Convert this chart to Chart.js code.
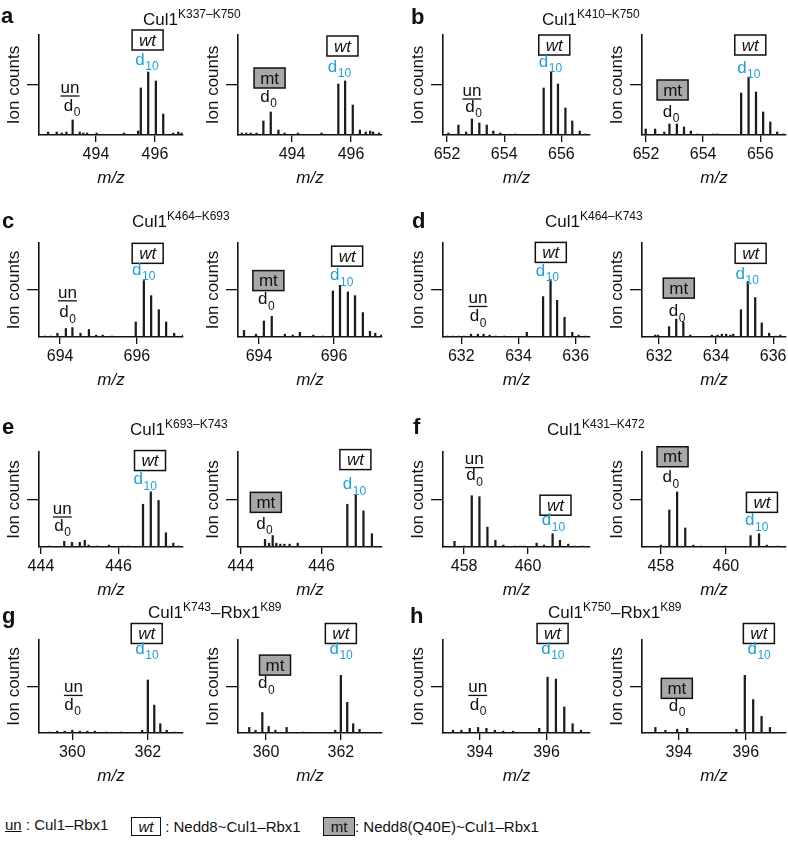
<!DOCTYPE html>
<html>
<head>
<meta charset="utf-8">
<script src="https://cdn.jsdelivr.net/npm/chart.js@4"></script>
<style>
  body { margin: 0; background: #fff; width: 788px; height: 842px; position: relative; overflow: hidden;
         font-family: "Liberation Sans", Arial, sans-serif; color: #111; }
  canvas { position: absolute; }
  .lbl { position: absolute; white-space: nowrap; line-height: 1; }
  .letter { font-weight: bold; font-size: 22px; }
  .title { font-size: 17px; }
  .title sup { font-size: 12px; vertical-align: 0; position: relative; top: -7px; }
  .key { font-size: 15px; }
  .box { display: inline-block; border: 1.5px solid #111; width: 28px; height: 17px; text-align: center;
         line-height: 17px; font-size: 15px; }
</style>
</head>
<body>
<script>
// ---- data: m/z positions and relative ion counts (tick at 50) ----
const yTicks = [50];

const aTicks = [494, 496];
const a1Mz = [492.38, 492.67, 492.84, 493.0, 493.21, 493.45, 493.57, 493.7, 494.02, 494.95, 495.43, 495.52, 495.77, 496.03, 496.28, 496.62, 496.79, 496.9];
const a1Int = [3, 3, 2, 3, 15, 3, 2, 2, 2, 2, 4, 47, 63, 54, 21, 2, 3, 2];
const a2Mz = [492.3, 492.45, 492.6, 492.8, 493.03, 493.28, 493.54, 493.75, 494.2, 495.0, 495.57, 495.8, 496.06, 496.3, 496.5, 496.65, 496.75, 496.95];
const a2Int = [2, 2, 2, 2, 14, 23, 5, 2, 2, 2, 51, 54, 30, 5, 3, 4, 3, 2];

const bTicks = [652, 654, 656];
const b1Mz = [652.05, 652.4, 652.67, 652.87, 653.13, 653.39, 653.62, 653.86, 654.39, 655.38, 655.64, 655.88, 656.14, 656.38, 656.64, 656.84];
const b1Int = [2, 10, 3, 16, 12, 10, 4, 2, 1, 47, 63, 51, 27, 14, 4, 1];
const b2Mz = [651.99, 652.32, 652.64, 652.82, 653.08, 653.33, 653.57, 653.8, 654.35, 654.5, 655.33, 655.59, 655.85, 656.1, 656.35, 656.59, 656.8];
const b2Int = [6, 6, 3, 11, 11, 8, 4, 1, 1, 1, 42, 58, 43, 23, 13, 3, 1];

const cTicks = [694, 696];
const c1Mz = [693.6, 693.75, 693.93, 694.15, 694.32, 694.53, 694.75, 694.94, 695.11, 695.35, 695.97, 696.18, 696.37, 696.57, 696.76, 696.97, 697.2];
const c1Int = [1, 1, 4, 9, 10, 4, 8, 2, 2, 1, 16, 60, 44, 29, 16, 4, 2];
const c2Mz = [693.6, 693.92, 694.13, 694.34, 694.69, 694.9, 695.09, 695.45, 695.7, 695.97, 696.16, 696.37, 696.56, 696.77, 696.96, 697.1, 697.26];
const c2Int = [7, 3, 17, 22, 3, 2, 5, 2, 1, 49, 55, 48, 44, 26, 6, 4, 2];

const dTicks = [632, 634, 636];
const d1Mz = [631.5, 631.7, 631.9, 632.1, 632.34, 632.58, 632.78, 632.99, 633.2, 633.5, 634.29, 634.86, 635.12, 635.35, 635.61, 635.88, 636.1, 636.35];
const d1Int = [1, 1, 1, 1, 3, 3, 3, 2, 1, 1, 5, 43, 61, 39, 21, 5, 2, 1];
const d2Mz = [631.86, 631.96, 632.35, 632.6, 632.85, 633.09, 633.85, 634.05, 634.2, 634.35, 634.5, 634.6, 634.87, 635.11, 635.37, 635.6, 635.86, 636.1, 636.25];
const d2Int = [2, 2, 11, 19, 16, 2, 2, 2, 3, 3, 2, 3, 29, 59, 42, 15, 4, 1, 2];

const eTicks = [444, 446];
const e1Mz = [444.21, 444.6, 444.8, 445.0, 445.13, 445.23, 445.45, 445.75, 446.1, 446.25, 446.63, 446.83, 447.03, 447.22, 447.41, 447.55];
const e1Int = [1, 6, 5, 5, 7, 2, 1, 2, 1, 1, 45, 58, 49, 15, 4, 1];
const e2Mz = [444.6, 444.7, 444.79, 444.88, 444.98, 445.08, 445.21, 445.41, 446.64, 446.85, 447.04, 447.25];
const e2Int = [8, 4, 12, 4, 3, 3, 3, 4, 45, 55, 38, 14];

const fTicks = [458, 460];
const f1Mz = [457.7, 458.0, 458.24, 458.48, 458.73, 458.98, 459.23, 459.6, 459.75, 459.9, 460.27, 460.5, 460.77, 461.0, 461.26, 461.45, 461.7];
const f1Int = [6, 1, 54, 53, 21, 7, 2, 1, 1, 1, 4, 2, 14, 7, 3, 1, 1];
const f2Mz = [458.0, 458.26, 458.5, 458.75, 459.0, 459.25, 459.97, 460.76, 461.02, 461.26, 461.6];
const f2Int = [2, 39, 58, 20, 2, 1, 1, 12, 14, 2, 1];

const gTicks = [360, 362];
const g1Mz = [359.4, 359.6, 359.8, 360.0, 360.2, 360.4, 360.6, 360.9, 361.3, 361.85, 362.0, 362.17, 362.33, 362.5, 362.7];
const g1Int = [1, 2, 2, 3, 2, 2, 2, 1, 1, 3, 57, 30, 10, 3, 1];
const g2Mz = [359.55, 359.72, 359.9, 360.07, 360.25, 360.55, 361.0, 361.85, 362.0, 362.17, 362.33, 362.5];
const g2Int = [6, 3, 22, 7, 3, 6, 1, 3, 62, 33, 10, 4];

const hTicks = [394, 396];
const h1Mz = [393.2, 393.45, 393.7, 393.95, 394.2, 394.45, 394.7, 395.0, 395.78, 396.03, 396.28, 396.53, 396.78, 397.03];
const h1Int = [3, 3, 5, 6, 5, 3, 2, 2, 5, 60, 58, 28, 10, 3];
const h2Mz = [393.3, 393.6, 393.95, 394.25, 395.72, 395.97, 396.22, 396.47, 396.72];
const h2Int = [6, 3, 4, 5, 4, 62, 36, 18, 6];

// panel headers
const letters = ["a", "b", "c", "d", "e", "f", "g", "h"];
const titles = [
  "Cul1<sup>K337–K750</sup>", "Cul1<sup>K410–K750</sup>",
  "Cul1<sup>K464–K693</sup>", "Cul1<sup>K464–K743</sup>",
  "Cul1<sup>K693–K743</sup>", "Cul1<sup>K431–K472</sup>",
  "Cul1<sup>K743</sup>–Rbx1<sup>K89</sup>", "Cul1<sup>K750</sup>–Rbx1<sup>K89</sup>"
];

const CYAN = "#1f9fda";
const FONT = '"Liberation Sans", Arial, sans-serif';
Chart.defaults.font.family = FONT;
Chart.defaults.color = "#111";

// plot boxes: [axis x, axis top, axis right, axis bottom]
const rowY = [[35, 134.5], [243, 336.5], [452, 546.5], [640, 733]];
const colX = [[39, 183], [238, 382], [443, 590], [642, 786]];

const panels = [
  { mz: a1Mz, v: a1Int, ticks: aTicks, range: [492.07, 496.95], r: 0, c: 0, tag: "un",
    ann: { tag: [493.12, 47], d0: [493.18, 27], wt: [495.75, 95], d10: [495.72, 73] } },
  { mz: a2Mz, v: a2Int, ticks: aTicks, range: [492.17, 497.05], r: 0, c: 1, tag: "mt",
    ann: { tag: [493.24, 57], d0: [493.2, 36], wt: [495.71, 89], d10: [495.6, 66] } },
  { mz: b1Mz, v: b1Int, ticks: bTicks, range: [651.86, 657.0], r: 0, c: 2, tag: "un",
    ann: { tag: [652.87, 44], d0: [652.92, 26], wt: [655.75, 90], d10: [655.61, 71] } },
  { mz: b2Mz, v: b2Int, ticks: bTicks, range: [651.86, 656.9], r: 0, c: 3, tag: "mt",
    ann: { tag: [652.93, 45], d0: [652.87, 21], wt: [655.65, 90], d10: [655.59, 65] } },
  { mz: c1Mz, v: c1Int, ticks: cTicks, range: [693.45, 697.2], r: 1, c: 0, tag: "un",
    ann: { tag: [694.19, 47], d0: [694.19, 24], wt: [696.28, 89], d10: [696.17, 69] } },
  { mz: c2Mz, v: c2Int, ticks: cTicks, range: [693.44, 697.28], r: 1, c: 1, tag: "mt",
    ann: { tag: [694.25, 60], d0: [694.19, 38], wt: [696.35, 86], d10: [696.2, 63] } },
  { mz: d1Mz, v: d1Int, ticks: dTicks, range: [631.36, 636.5], r: 1, c: 2, tag: "un",
    ann: { tag: [632.58, 41], d0: [632.58, 20], wt: [635.13, 90], d10: [635.0, 68] } },
  { mz: d2Mz, v: d2Int, ticks: dTicks, range: [631.4, 636.45], r: 1, c: 3, tag: "mt",
    ann: { tag: [632.69, 52], d0: [632.62, 25], wt: [635.21, 89], d10: [635.08, 65] } },
  { mz: e1Mz, v: e1Int, ticks: eTicks, range: [443.95, 447.66], r: 2, c: 0, tag: "un",
    ann: { tag: [444.55, 40], d0: [444.55, 20], wt: [446.81, 91], d10: [446.68, 69] } },
  { mz: e2Mz, v: e2Int, ticks: eTicks, range: [443.93, 447.5], r: 2, c: 1, tag: "mt",
    ann: { tag: [444.62, 47], d0: [444.58, 22], wt: [446.84, 92], d10: [446.81, 64] } },
  { mz: f1Mz, v: f1Int, ticks: fTicks, range: [457.34, 461.94], r: 2, c: 2, tag: "un",
    ann: { tag: [458.32, 92], d0: [458.32, 73], wt: [460.86, 44], d10: [460.79, 26] } },
  { mz: f2Mz, v: f2Int, ticks: fTicks, range: [457.42, 461.85], r: 2, c: 3, tag: "mt",
    ann: { tag: [458.36, 95], d0: [458.3, 71], wt: [461.11, 47], d10: [460.94, 26] } },
  { mz: g1Mz, v: g1Int, ticks: gTicks, range: [359.12, 362.93], r: 3, c: 0, tag: "un",
    ann: { tag: [360.03, 49], d0: [360.0, 28], wt: [361.97, 107], d10: [361.97, 88] } },
  { mz: g2Mz, v: g2Int, ticks: gTicks, range: [359.25, 363.1], r: 3, c: 1, tag: "mt",
    ann: { tag: [360.24, 73], d0: [360.0, 51], wt: [362.0, 107], d10: [362.0, 88] } },
  { mz: h1Mz, v: h1Int, ticks: hTicks, range: [392.9, 397.3], r: 3, c: 2, tag: "un",
    ann: { tag: [393.94, 49], d0: [393.94, 28], wt: [396.18, 107], d10: [396.18, 88] } },
  { mz: h2Mz, v: h2Int, ticks: hTicks, range: [392.9, 397.2], r: 3, c: 3, tag: "mt",
    ann: { tag: [393.94, 48], d0: [393.94, 27], wt: [396.39, 107], d10: [396.39, 88] } }
];

// draws "d" with a subscript, centred on px
function drawSub(ctx, px, py, sub, color) {
  ctx.fillStyle = color;
  ctx.textBaseline = "middle";
  ctx.textAlign = "left";
  ctx.font = "17px " + FONT;
  const w1 = ctx.measureText("d").width;
  ctx.font = "12px " + FONT;
  const w2 = ctx.measureText(sub).width;
  const x0 = px - (w1 + w2) / 2;
  ctx.font = "17px " + FONT;
  ctx.fillText("d", x0, py - 2);
  ctx.font = "12px " + FONT;
  ctx.fillText(sub, x0 + w1 + 0.5, py + 5);
}

function drawBox(ctx, px, py, text, italic, fill) {
  const w = 31, h = 20;
  ctx.fillStyle = fill;
  ctx.fillRect(px - w / 2, py - h / 2, w, h);
  ctx.strokeStyle = "#111";
  ctx.lineWidth = 1.5;
  ctx.strokeRect(px - w / 2, py - h / 2, w, h);
  ctx.fillStyle = "#111";
  ctx.font = (italic ? "italic " : "") + "17px " + FONT;
  ctx.textAlign = "center";
  ctx.textBaseline = "middle";
  ctx.fillText(text, px, py + 1);
}

const tagPlugin = {
  id: "tags",
  afterDraw(chart, args, opts) {
    const { ctx, scales: { x, y } } = chart;
    const a = opts.ann;
    const P = (pt) => [x.getPixelForValue(pt[0]), y.getPixelForValue(pt[1])];
    ctx.save();
    const [tx, ty] = P(a.tag);
    if (opts.tag === "un") {
      ctx.font = "17px " + FONT;
      ctx.fillStyle = "#111";
      ctx.textAlign = "center";
      ctx.textBaseline = "middle";
      ctx.fillText("un", tx, ty);
      const w = ctx.measureText("un").width;
      ctx.strokeStyle = "#111";
      ctx.lineWidth = 1.3;
      ctx.beginPath();
      ctx.moveTo(tx - w / 2, ty + 8);
      ctx.lineTo(tx + w / 2, ty + 8);
      ctx.stroke();
    } else {
      drawBox(ctx, tx, ty, "mt", false, "#a8a8a8");
    }
    const [d0x, d0y] = P(a.d0);
    drawSub(ctx, d0x, d0y, "0", "#111");
    const [wx, wy] = P(a.wt);
    drawBox(ctx, wx, wy, "wt", true, "#fff");
    const [dx, dy] = P(a.d10);
    drawSub(ctx, dx, dy, "10", CYAN);
    ctx.restore();
  }
};

function makePanel(p) {
  const [ax, right] = colX[p.c];
  const [top, bottom] = rowY[p.r];
  const W = Math.round(right - ax) + 48;
  const H = Math.round(bottom - top) + 95;
  const cv = document.createElement("canvas");
  cv.width = W;
  cv.height = H;
  cv.style.left = Math.round(ax - 40) + "px";
  cv.style.top = Math.round(top - 40) + "px";
  cv.style.width = W + "px";
  cv.style.height = H + "px";
  document.body.appendChild(cv);

  new Chart(cv, {
    type: "bar",
    data: {
      datasets: [{
        data: p.mz.map((m, i) => ({ x: m, y: p.v[i] })),
        backgroundColor: "#1c1c1c",
        barThickness: 1.6
      }]
    },
    options: {
      responsive: false,
      animation: false,
      layout: { padding: { top: 40, right: 8, left: 0, bottom: 0 } },
      plugins: {
        legend: { display: false },
        tooltip: { enabled: false },
        tags: { ann: p.ann, tag: p.tag }
      },
      scales: {
        x: {
          type: "linear",
          min: p.range[0],
          max: p.range[1],
          offset: false,
          afterBuildTicks: (s) => { s.ticks = p.ticks.map((v) => ({ value: v })); },
          afterFit: (s) => { s.height = 55; },
          grid: { offset: false, drawOnChartArea: false, drawTicks: true, tickLength: 7, color: "#111", lineWidth: 1.3 },
          border: { display: true, color: "#111", width: 1.6 },
          ticks: { padding: 3, color: "#111", font: { size: 16 }, maxRotation: 0 },
          title: { display: true, text: "m/z", color: "#111", font: { size: 17, style: "italic" }, padding: { top: 0, bottom: 2 } }
        },
        y: {
          min: 0,
          max: 100,
          afterBuildTicks: (s) => { s.ticks = yTicks.map((v) => ({ value: v })); },
          afterFit: (s) => { s.width = 40; },
          grid: { drawOnChartArea: false, drawTicks: true, tickLength: 12, color: "#111", lineWidth: 1.3 },
          border: { display: true, color: "#111", width: 1.6 },
          ticks: { display: false },
          title: { display: true, text: "Ion counts", color: "#111", font: { size: 17 }, padding: { top: 5, bottom: 0 } }
        }
      }
    },
    plugins: [tagPlugin]
  });
}

panels.forEach(makePanel);

// letters and titles
const letterPos = [[1, 22], [411, 23], [2, 227], [412, 227], [2, 433], [413, 433], [2, 622], [410, 622]];
const titlePos = [[143, 25], [542, 25], [132, 227], [545, 227], [130, 435], [547, 435], [148, 618], [548, 618]];
letters.forEach((l, i) => {
  const d = document.createElement("div");
  d.className = "lbl letter";
  d.textContent = l;
  d.style.left = letterPos[i][0] + "px";
  d.style.top = (letterPos[i][1] - 17) + "px";
  document.body.appendChild(d);
  const t = document.createElement("div");
  t.className = "lbl title";
  t.innerHTML = titles[i];
  t.style.left = titlePos[i][0] + "px";
  t.style.top = (titlePos[i][1] - 14) + "px";
  document.body.appendChild(t);
});

// key at the bottom
const key = [
  [5, '<u>un</u> : Cul1–Rbx1'],
  [131, '<span class="box" style="font-style:italic">wt</span> : Nedd8~Cul1–Rbx1'],
  [323, '<span class="box" style="background:#a8a8a8;width:30px">mt</span>: Nedd8(Q40E)~Cul1–Rbx1']
];
key.forEach(([x, html]) => {
  const d = document.createElement("div");
  d.className = "lbl key";
  d.innerHTML = html;
  d.style.left = x + "px";
  d.style.top = "817px";
  document.body.appendChild(d);
});
</script>
</body>
</html>
